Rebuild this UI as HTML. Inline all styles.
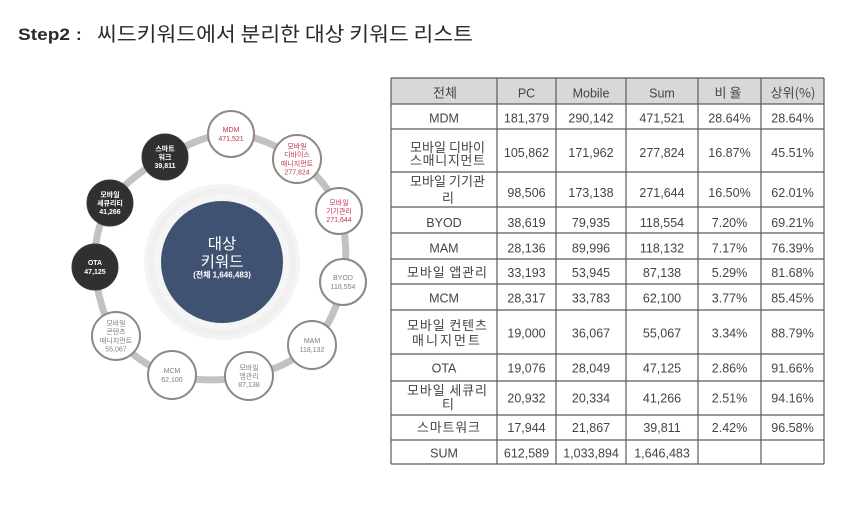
<!DOCTYPE html>
<html>
<head>
<meta charset="utf-8">
<style>
  html, body { margin:0; padding:0; background:#ffffff; }
  body { width:846px; height:510px; overflow:hidden; }
  svg { display:block; }
  .kr { font-family: "Liberation Sans", "Noto Sans CJK KR", sans-serif; }
  .num { font-family: "Liberation Sans", "Noto Sans CJK KR", sans-serif; font-size:12.5px; fill:#444444; }
  .krt { font-family: "Noto Sans CJK KR", "Liberation Sans", sans-serif; font-size:13px; fill:#444444; }
  .ct { font-family: "Liberation Sans", "Noto Sans CJK KR", sans-serif; font-size:7px; }
</style>
</head>
<body>
<svg width="846" height="510" viewBox="0 0 846 510" xmlns="http://www.w3.org/2000/svg">
  <rect x="0" y="0" width="846" height="510" fill="#ffffff"/>

  <!-- Title -->
  <text x="18" y="40" font-family="Liberation Sans, sans-serif" font-weight="bold" font-size="17" fill="#2a2a2a" textLength="52" lengthAdjust="spacingAndGlyphs">Step2</text>
  <text x="76" y="40" font-family="Liberation Sans, sans-serif" font-weight="bold" font-size="17" fill="#2a2a2a">:</text>
  <text x="97" y="41" font-family="Noto Sans CJK KR, Liberation Sans, sans-serif" font-size="20" fill="#2a2a2a" textLength="376" lengthAdjust="spacingAndGlyphs">씨드키워드에서 분리한 대상 키워드 리스트</text>

  <!-- Diagram: smooth ring -->
  <path d="M231,134 C253,134.3 279,146.2 297,159 C315,171.8 331.3,190.5 339,211 C346.7,231.5 347.5,259.7 343,282 C338.5,304.3 327.7,329.3 312,345 C296.3,360.7 272.3,371 249,376 C225.7,381 194.2,381.7 172,375 C149.8,368.3 128.8,354 116,336 C103.2,318 96,289.2 95,267 C94,244.8 98.3,221.3 110,203 C121.7,184.7 144.8,168.5 165,157 C185.2,145.5 209,133.7 231,134 Z"
        fill="none" stroke="#c2c2c2" stroke-width="7"/>

  <!-- center halo and circle -->
  <circle cx="222" cy="262" r="78" fill="#f4f4f4"/>
  <circle cx="222" cy="262" r="74" fill="#f0f0f0"/>
  <circle cx="222" cy="262" r="68" fill="#f5f5f5"/>
  <circle cx="222" cy="262" r="61" fill="#3f5271"/>
  <text x="222" y="249" text-anchor="middle" class="kr" font-size="15.5" fill="#ffffff">대상</text>
  <text x="222" y="267" text-anchor="middle" class="kr" font-size="15.5" fill="#ffffff">키워드</text>
  <text x="222" y="277.5" text-anchor="middle" class="kr" font-size="8" font-weight="bold" fill="#ffffff">(전체 1,646,483)</text>

  <!-- small circles -->
  <g stroke="#8e8882" stroke-width="2">
    <circle cx="231" cy="134" r="23" fill="#ffffff"/>
    <circle cx="297" cy="159" r="24" fill="#ffffff"/>
    <circle cx="339" cy="211" r="23" fill="#ffffff"/>
    <circle cx="343" cy="282" r="23" fill="#ffffff"/>
    <circle cx="312" cy="345" r="24" fill="#ffffff"/>
    <circle cx="249" cy="376" r="24" fill="#ffffff"/>
    <circle cx="172" cy="375" r="24" fill="#ffffff"/>
    <circle cx="116" cy="336" r="24" fill="#ffffff"/>
  </g>
  <g stroke="#3a3a3a" stroke-width="1">
    <circle cx="95" cy="267" r="23" fill="#303030"/>
    <circle cx="110" cy="203" r="23" fill="#303030"/>
    <circle cx="165" cy="157" r="23" fill="#303030"/>
  </g>

  <!-- red labels -->
  <g class="ct" fill="#bf3550" text-anchor="middle">
    <text x="231" y="132.2">MDM</text>
    <text x="231" y="140.9">471,521</text>
    <text x="297" y="148.5">모바일</text>
    <text x="297" y="157.2">디바이스</text>
    <text x="297" y="165.9">매니지먼트</text>
    <text x="297" y="174.6">277,824</text>
    <text x="339" y="204.8">모바일</text>
    <text x="339" y="213.5">기기관리</text>
    <text x="339" y="222.2">271,644</text>
  </g>
  <!-- gray labels -->
  <g class="ct" fill="#808080" text-anchor="middle">
    <text x="343" y="280.2">BYOD</text>
    <text x="343" y="288.9">118,554</text>
    <text x="312" y="343.2">MAM</text>
    <text x="312" y="351.9">118,132</text>
    <text x="249" y="369.8">모바일</text>
    <text x="249" y="378.5">앱관리</text>
    <text x="249" y="387.2">87,138</text>
    <text x="172" y="373.2">MCM</text>
    <text x="172" y="381.9">62,100</text>
    <text x="116" y="325.5">모바일</text>
    <text x="116" y="334.2">콘텐츠</text>
    <text x="116" y="342.9">매니지먼트</text>
    <text x="116" y="351.6">55,067</text>
  </g>
  <!-- dark labels -->
  <g class="ct" fill="#ffffff" font-weight="bold" text-anchor="middle">
    <text x="95" y="265.2">OTA</text>
    <text x="95" y="273.9">47,125</text>
    <text x="110" y="196.8">모바일</text>
    <text x="110" y="205.5">세큐리티</text>
    <text x="110" y="214.2">41,266</text>
    <text x="165" y="150.8">스마트</text>
    <text x="165" y="159.5">워크</text>
    <text x="165" y="168.2">39,811</text>
  </g>

  <!-- Table -->
  <rect x="391" y="78" width="433" height="26" fill="#d8d8d8"/>
  <g stroke="#5a5a5a" stroke-width="1.2">
    <line x1="391" y1="78" x2="824" y2="78"/>
    <line x1="391" y1="104" x2="824" y2="104"/>
    <line x1="391" y1="129" x2="824" y2="129"/>
    <line x1="391" y1="172" x2="824" y2="172"/>
    <line x1="391" y1="207" x2="824" y2="207"/>
    <line x1="391" y1="233" x2="824" y2="233"/>
    <line x1="391" y1="259" x2="824" y2="259"/>
    <line x1="391" y1="284" x2="824" y2="284"/>
    <line x1="391" y1="310" x2="824" y2="310"/>
    <line x1="391" y1="354" x2="824" y2="354"/>
    <line x1="391" y1="381" x2="824" y2="381"/>
    <line x1="391" y1="415" x2="824" y2="415"/>
    <line x1="391" y1="440" x2="824" y2="440"/>
    <line x1="391" y1="464" x2="824" y2="464"/>
    <line x1="391" y1="78" x2="391" y2="464"/>
    <line x1="497" y1="78" x2="497" y2="464"/>
    <line x1="556" y1="78" x2="556" y2="464"/>
    <line x1="626" y1="78" x2="626" y2="464"/>
    <line x1="698" y1="78" x2="698" y2="464"/>
    <line x1="761" y1="78" x2="761" y2="464"/>
    <line x1="824" y1="78" x2="824" y2="464"/>
  </g>

  <!-- header -->
  <g text-anchor="middle">
    <text x="445" y="97.5" class="krt">전체</text>
    <text x="526.5" y="97.5" class="num">PC</text>
    <text x="591" y="97.5" class="num">Mobile</text>
    <text x="662" y="97.5" class="num">Sum</text>
    <text x="729.5" y="97.5" class="krt" letter-spacing="3">비율</text>
    <text x="793" y="97.5" class="krt" font-size="12.5">상위(%)</text>
  </g>

  <!-- first column -->
  <text x="444" y="122.5" text-anchor="middle" class="num">MDM</text>
  <text x="410" y="152" class="krt" textLength="75" lengthAdjust="spacing">모바일 디바이</text>
  <text x="410" y="165" class="krt" textLength="75" lengthAdjust="spacing">스매니지먼트</text>
  <text x="410" y="186" class="krt" textLength="75" lengthAdjust="spacing">모바일 기기관</text>
  <text x="448" y="202.5" text-anchor="middle" class="krt">리</text>
  <text x="444" y="227" text-anchor="middle" class="num">BYOD</text>
  <text x="444" y="252.5" text-anchor="middle" class="num">MAM</text>
  <text x="407" y="277" class="krt" textLength="80" lengthAdjust="spacing">모바일 앱관리</text>
  <text x="444" y="302.5" text-anchor="middle" class="num">MCM</text>
  <text x="407" y="330" class="krt" textLength="80" lengthAdjust="spacing">모바일 컨텐츠</text>
  <text x="412" y="345" class="krt" textLength="68" lengthAdjust="spacing">매니지먼트</text>
  <text x="444" y="372.5" text-anchor="middle" class="num">OTA</text>
  <text x="407" y="395" class="krt" textLength="80" lengthAdjust="spacing">모바일 세큐리</text>
  <text x="448" y="409" text-anchor="middle" class="krt">티</text>
  <text x="417" y="432" class="krt" textLength="63" lengthAdjust="spacing">스마트워크</text>
  <text x="444" y="457.5" text-anchor="middle" class="num">SUM</text>

  <!-- numeric columns -->
  <g text-anchor="middle" class="num">
    <text x="526.5" y="122.5">181,379</text><text x="591" y="122.5">290,142</text><text x="662" y="122.5">471,521</text><text x="729.5" y="122.5">28.64%</text><text x="792.5" y="122.5">28.64%</text>
    <text x="526.5" y="157">105,862</text><text x="591" y="157">171,962</text><text x="662" y="157">277,824</text><text x="729.5" y="157">16.87%</text><text x="792.5" y="157">45.51%</text>
    <text x="526.5" y="197">98,506</text><text x="591" y="197">173,138</text><text x="662" y="197">271,644</text><text x="729.5" y="197">16.50%</text><text x="792.5" y="197">62.01%</text>
    <text x="526.5" y="227">38,619</text><text x="591" y="227">79,935</text><text x="662" y="227">118,554</text><text x="729.5" y="227">7.20%</text><text x="792.5" y="227">69.21%</text>
    <text x="526.5" y="252.5">28,136</text><text x="591" y="252.5">89,996</text><text x="662" y="252.5">118,132</text><text x="729.5" y="252.5">7.17%</text><text x="792.5" y="252.5">76.39%</text>
    <text x="526.5" y="277">33,193</text><text x="591" y="277">53,945</text><text x="662" y="277">87,138</text><text x="729.5" y="277">5.29%</text><text x="792.5" y="277">81.68%</text>
    <text x="526.5" y="302.5">28,317</text><text x="591" y="302.5">33,783</text><text x="662" y="302.5">62,100</text><text x="729.5" y="302.5">3.77%</text><text x="792.5" y="302.5">85.45%</text>
    <text x="526.5" y="337.5">19,000</text><text x="591" y="337.5">36,067</text><text x="662" y="337.5">55,067</text><text x="729.5" y="337.5">3.34%</text><text x="792.5" y="337.5">88.79%</text>
    <text x="526.5" y="372.5">19,076</text><text x="591" y="372.5">28,049</text><text x="662" y="372.5">47,125</text><text x="729.5" y="372.5">2.86%</text><text x="792.5" y="372.5">91.66%</text>
    <text x="526.5" y="402.5">20,932</text><text x="591" y="402.5">20,334</text><text x="662" y="402.5">41,266</text><text x="729.5" y="402.5">2.51%</text><text x="792.5" y="402.5">94.16%</text>
    <text x="526.5" y="432">17,944</text><text x="591" y="432">21,867</text><text x="662" y="432">39,811</text><text x="729.5" y="432">2.42%</text><text x="792.5" y="432">96.58%</text>
    <text x="526.5" y="457.5">612,589</text><text x="591" y="457.5">1,033,894</text><text x="662" y="457.5">1,646,483</text>
  </g>
</svg>
</body>
</html>
